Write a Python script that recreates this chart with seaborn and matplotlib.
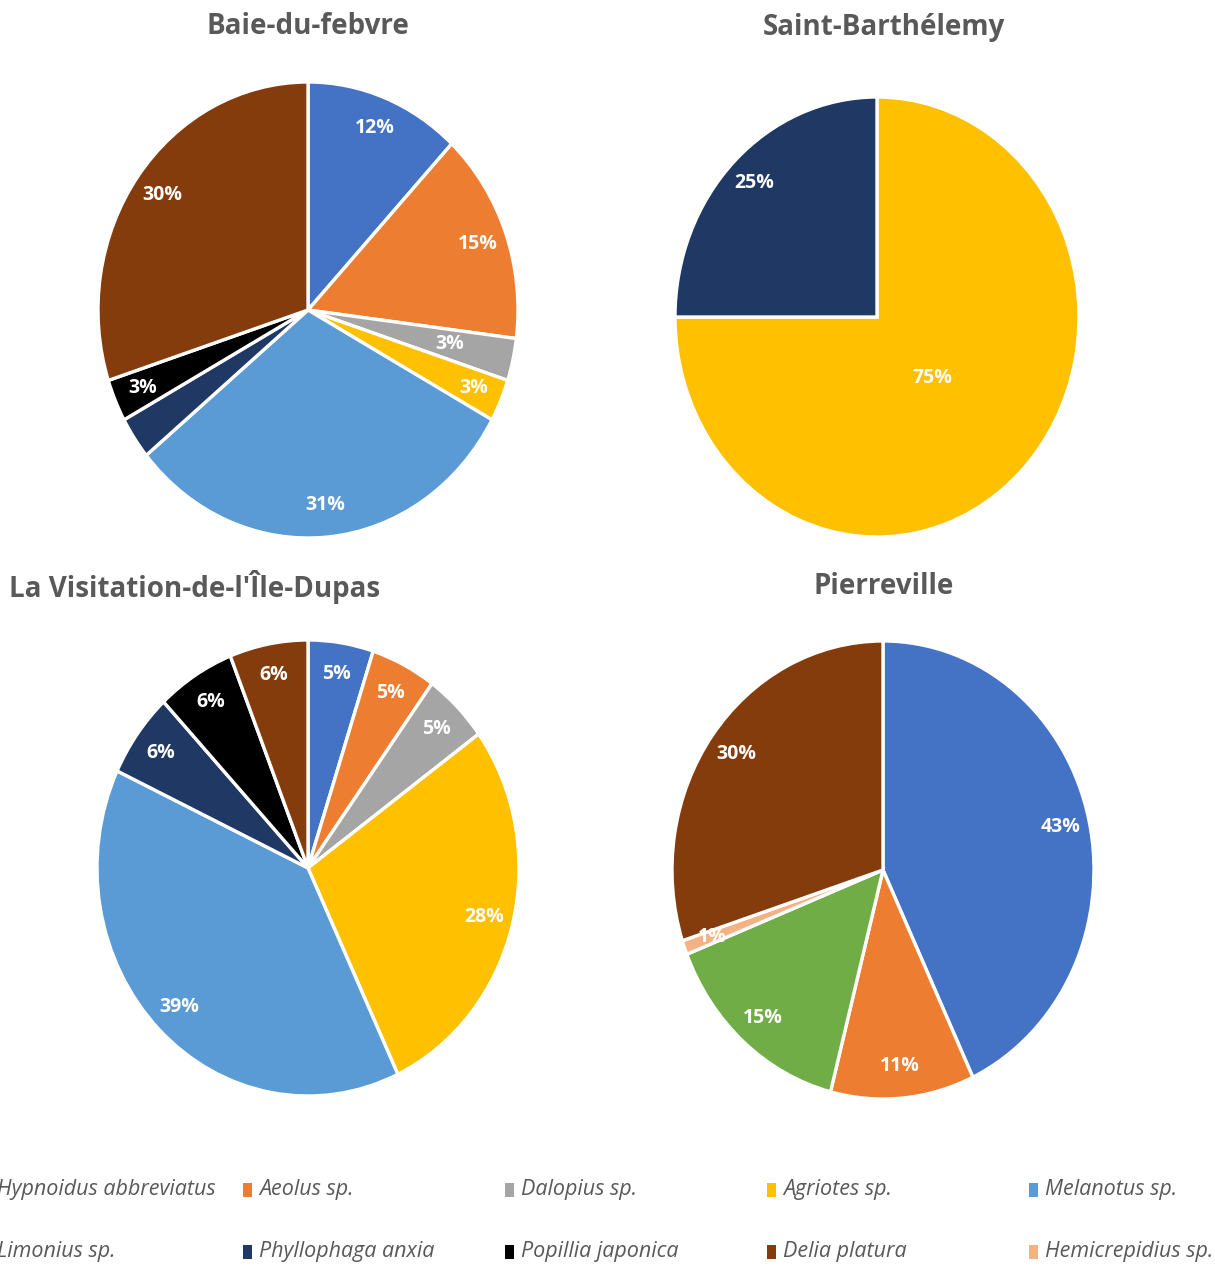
import numpy as np
import matplotlib
matplotlib.use("Agg")
import matplotlib.pyplot as plt
from matplotlib.patches import Rectangle
import seaborn as sns

# ---- DATA ----
species = ["Hypnoidus abbreviatus", "Aeolus sp.", "Dalopius sp.", "Agriotes sp.", "Melanotus sp.",
           "Limonius sp.", "Phyllophaga anxia", "Popillia japonica", "Delia platura", "Hemicrepidius sp."]
colors = {
    "Hypnoidus abbreviatus": "#4472C4",
    "Aeolus sp.": "#ED7D31",
    "Dalopius sp.": "#A5A5A5",
    "Agriotes sp.": "#FFC000",
    "Melanotus sp.": "#5B9BD5",
    "Limonius sp.": "#70AD47",
    "Phyllophaga anxia": "#1F3864",
    "Popillia japonica": "#000000",
    "Delia platura": "#843C0C",
    "Hemicrepidius sp.": "#F4B183",
}

baie_species = ["Hypnoidus abbreviatus", "Aeolus sp.", "Dalopius sp.", "Agriotes sp.",
                "Melanotus sp.", "Phyllophaga anxia", "Popillia japonica", "Delia platura"]
baie_values = [12, 15, 3, 3, 31, 3, 3, 30]

stbarth_species = ["Agriotes sp.", "Phyllophaga anxia"]
stbarth_values = [75, 25]

visitation_species = ["Hypnoidus abbreviatus", "Aeolus sp.", "Dalopius sp.", "Agriotes sp.",
                      "Melanotus sp.", "Phyllophaga anxia", "Popillia japonica", "Delia platura"]
visitation_values = [5, 5, 5, 28, 39, 6, 6, 6]

pierre_species = ["Hypnoidus abbreviatus", "Aeolus sp.", "Limonius sp.", "Hemicrepidius sp.", "Delia platura"]
pierre_values = [43, 11, 15, 1, 30]

# ---- STYLE ----
sns.set_theme(style="white")
plt.rcParams["font.family"] = ["Open Sans", "DejaVu Sans"]

W, H = 1215, 1268
fig = plt.figure(figsize=(W / 100, H / 100), dpi=100)

title_color = "#595959"


def draw_pie(name, sp, vals, cx, cy, rx, ry, title_xy, radius_fix=None, hide=()):
    pad = 1.05
    ax = fig.add_axes([(cx - pad * rx) / W, (H - cy - pad * ry) / H, 2 * pad * rx / W, 2 * pad * ry / H])
    wedges, texts, autotexts = ax.pie(
        vals,
        colors=[colors[s] for s in sp],
        startangle=90,
        counterclock=False,
        autopct=lambda p: f"{p:.0f}%",
        pctdistance=0.86,
        wedgeprops=dict(edgecolor="white", linewidth=2.4),
        textprops=dict(color="white", fontsize=14, fontweight="bold"),
    )
    ax.set_aspect("auto")
    ax.set_xlim(-pad, pad)
    ax.set_ylim(-pad, pad)
    radius_fix = radius_fix or {}
    for i, (w, t) in enumerate(zip(wedges, autotexts)):
        if i in hide:
            t.set_visible(False)
        if i in radius_fix:
            a = np.deg2rad((w.theta1 + w.theta2) / 2)
            r = radius_fix[i]
            t.set_position((r * np.cos(a), r * np.sin(a)))
    fig.text(title_xy[0] / W, 1 - title_xy[1] / H, name, ha="center", va="center",
             fontsize=20, fontweight="bold", color=title_color)
    return ax


draw_pie("Baie-du-febvre", baie_species, baie_values, 308, 310, 210, 228, (308, 27),
         radius_fix={2: 0.69}, hide=(5,))
draw_pie("Saint-Barthélemy", stbarth_species, stbarth_values, 877, 317, 202, 220, (884, 27),
         radius_fix={0: 0.39})
draw_pie("La Visitation-de-l'Île-Dupas", visitation_species, visitation_values, 308, 868, 211, 228, (195, 587))
draw_pie("Pierreville", pierre_species, pierre_values, 883, 870, 211, 229, (884, 587))

# ---- LEGEND (two rows of five, cut at the edges as in the source) ----
for i, s in enumerate(species):
    row, col = divmod(i, 5)
    x0 = -19 + 262 * col
    yc = 1190 + 62 * row
    fig.add_artist(Rectangle((x0 / W, 1 - (yc + 7) / H), 9 / W, 14 / H,
                             transform=fig.transFigure, color=colors[s], lw=0))
    fig.text((x0 + 16) / W, 1 - yc / H, s, ha="left", va="center", fontsize=15.5,
             fontstyle="italic", color=title_color)

plt.savefig("out.png", dpi=100)
